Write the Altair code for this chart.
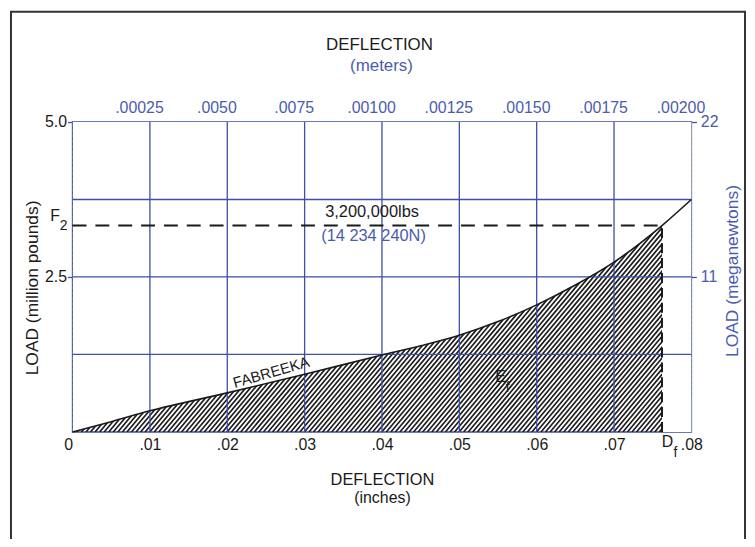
import json
import altair as alt
import numpy as np
import pandas as pd

# ---------------- data ----------------
defl_in = [0, 0.005, 0.01, 0.02, 0.03, 0.04, 0.045, 0.05, 0.055, 0.06, 0.065, 0.07, 0.0762, 0.08]
load_mlb = [0, 0.165, 0.34, 0.63, 0.93, 1.24, 1.39, 1.56, 1.78, 2.05, 2.37, 2.74, 3.33, 3.75]

x_ticks = [0, 0.01, 0.02, 0.03, 0.04, 0.05, 0.06, 0.07, 0.08]
x_labels = ["0", ".01", ".02", ".03", ".04", ".05", ".06", ".07", ".08"]
top_ticks = [0.01, 0.02, 0.03, 0.04, 0.05, 0.06, 0.07, 0.08]
top_labels = [".00025", ".0050", ".0075", ".00100", ".00125", ".00150", ".00175", ".00200"]
left_ticks = [2.5, 5.0]
left_labels = ["2.5", "5.0"]
right_labels = ["11", "22"]
grid_x = [0.01, 0.02, 0.03, 0.04, 0.05, 0.06, 0.07]
grid_y = [1.25, 2.5, 3.75]
F2_LOAD = 3.33
DF_DEFL = 0.0762
X_MAX = 0.08
Y_MAX = 5.0

# ---------------- styling ----------------
BLUE = "#3d4fa6"
BLUE_TXT = "#4a5cb0"
BLACK = "#1a1a1a"
FONT = "Liberation Sans"

xs = alt.Scale(domain=[0, X_MAX], nice=False, zero=False)
ys = alt.Scale(domain=[0, Y_MAX], nice=False, zero=False)


def lbl_expr(labels, ticks):
    return f"{json.dumps(labels)}[indexof({json.dumps(ticks)}, datum.value)]"


curve = pd.DataFrame({"x": defl_in, "y": load_mlb, "top": [Y_MAX] * len(defl_in)})

# hatch pattern (decoration): diagonal strokes, later masked above the curve
slope = 149.0  # load units per inch for ~50 degree strokes
hx0 = np.arange(-Y_MAX / slope, DF_DEFL, 0.01 / 17)
hatch = pd.DataFrame({"x0": hx0, "x1": hx0 + Y_MAX / slope, "y0": 0.0, "y1": Y_MAX})

hatch_layer = alt.Chart(hatch).mark_rule(clip=True, color=BLACK, strokeWidth=1.7).encode(
    x=alt.X("x0:Q", scale=xs, axis=None), x2="x1:Q",
    y=alt.Y("y0:Q", scale=ys, axis=None), y2="y1:Q",
)

# mask above the curve (carries the top / right axes)
mask_layer = alt.Chart(curve).mark_area(color="white", interpolate="monotone", clip=True, opacity=1).encode(
    x=alt.X("x:Q", scale=xs, title=None,
            axis=alt.Axis(orient="top", values=top_ticks, labelExpr=lbl_expr(top_labels, top_ticks),
                          ticks=False, domain=False, grid=False, labelPadding=7, labelOffset=-11,
                          labelFlush=False, labelOverlap=False,
                          labelColor=BLUE_TXT, labelFontSize=16, labelFont=FONT)),
    y=alt.Y("y:Q", scale=ys, title=None,
            axis=alt.Axis(orient="right", values=left_ticks, labelExpr=lbl_expr(right_labels, left_ticks),
                          tickSize=5, tickColor=BLUE, tickWidth=1.3, domain=False, grid=False,
                          labelFlush=False, labelOverlap=False,
                          labelPadding=4, labelColor=BLUE_TXT, labelFontSize=16, labelFont=FONT,
                          labelBaseline="middle")),
    y2="top:Q",
)

cover = pd.DataFrame({"x": [DF_DEFL], "x2": [X_MAX], "y": [0.0], "y2": [Y_MAX]})
cover_layer = alt.Chart(cover).mark_rect(color="white").encode(
    x=alt.X("x:Q", scale=xs, axis=None), x2="x2:Q",
    y=alt.Y("y:Q", scale=ys, axis=None), y2="y2:Q",
)

vgrid = alt.Chart(pd.DataFrame({"g": grid_x})).mark_rule(color=BLUE, strokeWidth=1.3).encode(
    x=alt.X("g:Q", scale=xs, axis=None))
hgrid = alt.Chart(pd.DataFrame({"g": grid_y})).mark_rule(color=BLUE, strokeWidth=1.3).encode(
    y=alt.Y("g:Q", scale=ys, axis=None))

line_layer = alt.Chart(curve).mark_line(color=BLACK, strokeWidth=1.6, interpolate="monotone").encode(
    x=alt.X("x:Q", scale=xs, title=None,
            axis=alt.Axis(orient="bottom", values=x_ticks, labelExpr=lbl_expr(x_labels, x_ticks),
                          ticks=False, domain=False, grid=False, labelPadding=5,
                          labelFlush=False, labelOverlap=False,
                          labelAlign={"condition": {"test": "datum.value == 0", "value": "right"},
                                      "value": "center"},
                          labelColor=BLACK, labelFontSize=16, labelFont=FONT)),
    y=alt.Y("y:Q", scale=ys, title=None,
            axis=alt.Axis(orient="left", values=left_ticks, labelExpr=lbl_expr(left_labels, left_ticks),
                          tickSize=5, tickColor=BLUE, tickWidth=1.3, domain=False, grid=False,
                          labelFlush=False, labelOverlap=False,
                          labelPadding=1, labelColor=BLACK, labelFontSize=16, labelFont=FONT,
                          labelBaseline="middle")),
)

f2 = pd.DataFrame({"x": [0.0], "x2": [DF_DEFL], "y": [F2_LOAD], "y0": [0.0]})
f2_line = alt.Chart(f2).mark_rule(color=BLACK, strokeWidth=2, strokeDash=[14, 9]).encode(
    x=alt.X("x:Q", scale=xs, axis=None), x2="x2:Q", y=alt.Y("y:Q", scale=ys, axis=None))
df_line = alt.Chart(f2).mark_rule(color=BLACK, strokeWidth=2, strokeDash=[10, 5]).encode(
    x=alt.X("x2:Q", scale=xs, axis=None), y=alt.Y("y0:Q", scale=ys, axis=None), y2="y:Q")

one = pd.DataFrame({"a": [0]})


def label(text, px, py, color=BLACK, size=17, angle=0, align="center"):
    return alt.Chart(one).mark_text(text=text, font=FONT, fontSize=size, color=color,
                                    angle=angle, align=align, baseline="middle").encode(
        x=alt.value(px), y=alt.value(py))


texts = [
    label("DEFLECTION", 309, -78),
    label("(meters)", 311, -56, color=BLUE_TXT),
    label("DEFLECTION", 312, 360, size=16.5),
    label("(inches)", 312, 379, size=16),
    label("LOAD (million pounds)", -40, 167, size=17.5, angle=270),
    label("LOAD  (meganewtons)", 665, 150, size=17.5, color=BLUE_TXT, angle=270),
    label("F", -17.5, 95, size=16),
    label("2", -9, 105, size=14),
    label("D", 599, 322, size=16),
    label("f", 607, 333, size=14),
    label("E", 431, 257, size=16),
    label("f", 438, 268, size=14),
    label("FABREEKA", 200, 252, size=15, angle=344),
    label("3,200,000lbs", 301.5, 90.5, size=16.5),
    label("(14 234 240N)", 303, 115, size=16.5, color=BLUE_TXT),
]

frame = alt.Chart(one).mark_rect(fill=None, fillOpacity=0, stroke="#333333", strokeWidth=2).encode(
    x=alt.value(-62), x2=alt.value(677), y=alt.value(-111), y2=alt.value(430))

chart = alt.layer(
    hatch_layer, mask_layer, cover_layer, vgrid, hgrid, line_layer, f2_line, df_line, frame, *texts
).resolve_axis(x="independent", y="independent").properties(
    width=623, height=312,
    autosize=alt.AutoSizeParams(type="none"),
    padding={"left": 65, "top": 113, "right": 56, "bottom": 106},
    background="white",
).configure_view(stroke=BLUE, strokeWidth=1.5)

chart.save("out.html", embed_options={"renderer": "svg", "actions": False})
